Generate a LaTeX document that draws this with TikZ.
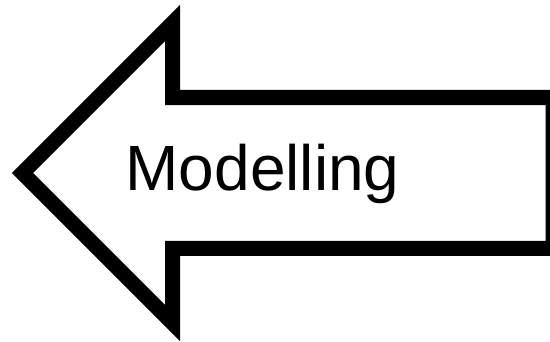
\documentclass[tikz,border=0pt]{standalone}
\usepackage{fontspec}
\setmainfont{Liberation Sans}
\begin{document}
\begin{tikzpicture}[x=1pt,y=1pt,
  arrowline/.style={draw=black,line width=15pt,line join=miter,fill=white},
  labeltext/.style={inner sep=0pt,anchor=base,font=\fontsize{64}{72}\selectfont}]
\useasboundingbox (0,0) rectangle (550,341);
\clip (0,0) rectangle (550,341);
\draw[arrowline] (22.6,168) -- (172.5,318) -- (172.5,243.5) -- (553,243.5)
  -- (553,92.7) -- (172.5,92.7) -- (172.5,18) -- cycle;
\node[labeltext] (label) at (262.5,151) {Modelling};
\end{tikzpicture}
\end{document}
